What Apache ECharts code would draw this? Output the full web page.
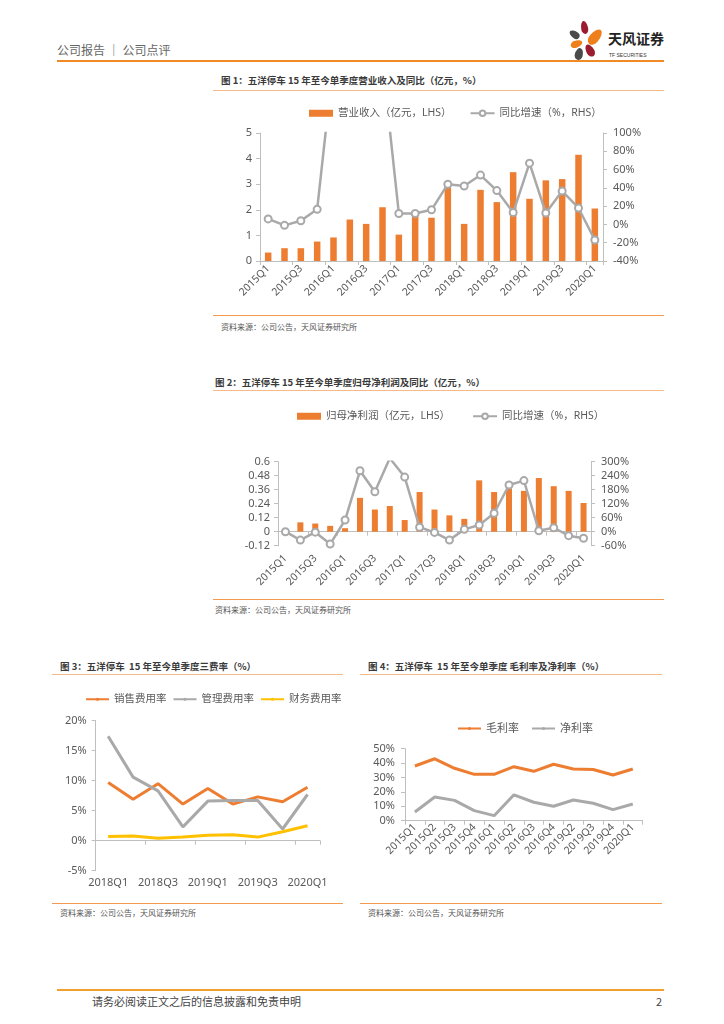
<!DOCTYPE html>
<html><head><meta charset="utf-8">
<script src="https://cdn.jsdelivr.net/npm/echarts@6/dist/echarts.min.js"></script>
<style>
html,body{margin:0;padding:0;background:#fff;}
body{width:724px;height:1024px;position:relative;overflow:hidden;font-family:'Noto Sans CJK SC','Noto Sans',sans-serif;}
.abs{position:absolute;}
.t{position:absolute;white-space:nowrap;color:#333;}
.ttl{font-size:9.5px;font-weight:bold;color:#3a3a3a;}
.src{font-size:8px;color:#555;}
.ln{position:absolute;height:0;}
.petal{position:absolute;border-radius:50% 50% 50% 50% / 60% 60% 40% 40%;}
</style></head><body>
<!-- header -->
<div class="t" style="left:57px;top:41px;font-size:12px;color:#666;">公司报告 ｜ 公司点评</div>
<div class="ln" style="left:57px;top:60px;width:607px;border-top:2px solid #F08A24;"></div>
<div class="petal" style="left:581px;top:21px;width:7px;height:13px;background:#9B1B30;transform:rotate(-10deg);"></div>
<div class="petal" style="left:590px;top:28px;width:10px;height:18px;background:#EE7F1A;transform:rotate(40deg);"></div>
<div class="petal" style="left:571px;top:29px;width:7px;height:11px;background:#4A4A4A;transform:rotate(-55deg);"></div>
<div class="petal" style="left:573px;top:38px;width:7px;height:12px;background:#EE7F1A;transform:rotate(70deg);"></div>
<div class="petal" style="left:586px;top:44px;width:8px;height:13px;background:#9B1B30;transform:rotate(-30deg);"></div>
<div class="petal" style="left:575px;top:48px;width:8px;height:12px;background:#4A4A4A;transform:rotate(15deg);"></div>
<div class="t" style="left:608px;top:28px;font-size:14px;font-weight:bold;color:#222;">天风证券</div>
<div class="t" style="left:609px;top:52px;font-size:5px;color:#333;font-family:'Liberation Sans',sans-serif;">TF SECURITIES</div>

<!-- chart 1 frame -->
<div class="t ttl" style="left:221px;top:73px;">图 1：五洋停车 15 年至今单季度营业收入及同比（亿元，%）</div>
<div class="ln" style="left:213px;top:90px;width:451px;border-top:1.5px solid #F6B98A;"></div>
<div id="c1" class="abs" style="left:210px;top:95px;width:460px;height:220px;"></div>
<div class="ln" style="left:213px;top:315px;width:451px;border-top:1.5px solid #F39A4F;"></div>
<div class="t src" style="left:221px;top:321px;">资料来源：公司公告，天风证券研究所</div>

<!-- chart 2 frame -->
<div class="t ttl" style="left:215px;top:375px;">图 2：五洋停车 15 年至今单季度归母净利润及同比（亿元，%）</div>
<div class="ln" style="left:213px;top:390px;width:451px;border-top:1.5px solid #F6B98A;"></div>
<div id="c2" class="abs" style="left:210px;top:395px;width:460px;height:200px;"></div>
<div class="ln" style="left:213px;top:599px;width:451px;border-top:1.5px solid #F39A4F;"></div>
<div class="t src" style="left:215px;top:604px;">资料来源：公司公告，天风证券研究所</div>

<!-- chart 3 frame -->
<div class="t ttl" style="left:60px;top:659px;">图 3：五洋停车 &nbsp;15 年至今单季度三费率（%）</div>
<div class="ln" style="left:52px;top:674px;width:291px;border-top:1.5px solid #F6B98A;"></div>
<div id="c3" class="abs" style="left:50px;top:680px;width:300px;height:220px;"></div>
<div class="ln" style="left:52px;top:903px;width:291px;border-top:1.5px solid #F39A4F;"></div>
<div class="t src" style="left:60px;top:907px;">资料来源：公司公告，天风证券研究所</div>

<!-- chart 4 frame -->
<div class="t ttl" style="left:368px;top:659px;">图 4：五洋停车 &nbsp;15 年至今单季度 毛利率及净利率（%）</div>
<div class="ln" style="left:360px;top:674px;width:302px;border-top:1.5px solid #F6B98A;"></div>
<div id="c4" class="abs" style="left:360px;top:690px;width:305px;height:210px;"></div>
<div class="ln" style="left:360px;top:903px;width:302px;border-top:1.5px solid #F39A4F;"></div>
<div class="t src" style="left:368px;top:907px;">资料来源：公司公告，天风证券研究所</div>

<!-- footer -->
<div class="ln" style="left:57px;top:989px;width:607px;border-top:2px solid #F0A030;"></div>
<div class="t" style="left:92px;top:993px;font-size:11px;color:#444;">请务必阅读正文之后的信息披露和免责申明</div>
<div class="t" style="left:656px;top:993px;font-size:11px;color:#444;">2</div>

<script>
// ---------- data ----------
const quarters21 = ['2015Q1','2015Q2','2015Q3','2015Q4','2016Q1','2016Q2','2016Q3','2016Q4','2017Q1','2017Q2','2017Q3','2017Q4','2018Q1','2018Q2','2018Q3','2018Q4','2019Q1','2019Q2','2019Q3','2019Q4','2020Q1'];
const revenue = [0.33,0.50,0.50,0.76,0.92,1.62,1.45,2.10,1.03,1.80,1.69,2.95,1.45,2.78,2.30,3.47,2.43,3.15,3.20,4.15,2.05];
const revenueYoY = [6,-1,4,16.5,179,224,190,178,12,12,16,44,42,54,37,13,67,12.5,36.5,18,-17];
const netProfit = [0.01,0.08,0.07,0.05,0.03,0.29,0.19,0.22,0.10,0.34,0.19,0.14,0.11,0.44,0.34,0.37,0.35,0.46,0.39,0.35,0.246];
const netProfitYoY = [0,-36,-2,-53,50,261,171,315,234,19,-3,-36,10,29,79,200,219,4,17,-17,-28];
const quarters9 = ['2018Q1','2018Q2','2018Q3','2018Q4','2019Q1','2019Q2','2019Q3','2019Q4','2020Q1'];
const salesRate = [9.7,6.9,9.5,6.1,8.7,6.1,7.3,6.5,8.9];
const mgmtRate = [17.4,10.6,8.3,2.3,6.6,6.7,6.7,1.95,7.7];
const finRate = [0.7,0.8,0.4,0.6,0.9,1.0,0.6,1.5,2.5];
const quarters12 = ['2015Q1','2015Q2','2015Q3','2015Q4','2016Q1','2016Q2','2016Q3','2016Q4','2019Q2','2019Q3','2019Q4','2020Q1'];
const grossMargin = [38,43,36.4,32.2,32.2,37.5,34.3,39.2,35.9,35.6,31.7,35.9];
const netMargin = [6,16.5,14.1,7,3.5,18,12.8,10,14.4,12.1,7.7,11.6];

// ---------- styles ----------
const FF = "'Noto Sans','Noto Sans CJK SC',sans-serif";
const ORANGE = '#ED7D31', GRAY = '#A9A9A9', YELLOW = '#FFC000';
const AX = '#BFBFBF', LBL = '#595959';
const axisLine = {show:true, lineStyle:{color:AX, width:1}};
const tick = {show:true, inside:false, length:4, lineStyle:{color:AX}};

function yAxis(o){
  return Object.assign({type:'value', splitLine:{show:false}, axisLine:axisLine, axisTick:tick,
    axisLabel:{color:LBL, fontSize:11, fontFamily:FF}}, o);
}
function grid(g){ return Object.assign({containLabel:false, outerBoundsMode:'none'}, g); }

// ---------- chart 1 ----------
echarts.init(document.getElementById('c1')).setOption({
  animation:false,
  textStyle:{fontFamily:FF},
  legend:{left:94, top:8, itemWidth:24, itemHeight:7, itemGap:18,
    textStyle:{color:LBL, fontSize:10.5, fontFamily:FF},
    data:[{name:'营业收入（亿元，LHS）', icon:'rect'}, {name:'同比增速（%，RHS）'}]},
  grid:grid({left:50, top:38, width:343, height:128}),
  xAxis:{type:'category', data:quarters21, axisLine:axisLine, axisTick:{show:true, length:4, lineStyle:{color:AX}},
    axisLabel:{interval:1, rotate:45, color:LBL, fontSize:10.5, fontFamily:FF, margin:6}},
  yAxis:[
    yAxis({min:0, max:5, interval:1, axisLabel:{color:LBL, fontSize:11, fontFamily:FF, margin:8}}),
    yAxis({min:-40, max:100, interval:20, position:'right', axisLabel:{color:LBL, fontSize:11, fontFamily:FF, margin:10, formatter:'{value}%'}})
  ],
  series:[
    {name:'营业收入（亿元，LHS）', type:'bar', data:revenue, barWidth:6.5, itemStyle:{color:ORANGE}},
    {name:'同比增速（%，RHS）', type:'line', yAxisIndex:1, data:revenueYoY, clip:true,
      symbol:'circle', symbolSize:7, showAllSymbol:true,
      lineStyle:{color:GRAY, width:2.5}, itemStyle:{color:'#fff', borderColor:GRAY, borderWidth:2}}
  ]
});

// ---------- chart 2 ----------
echarts.init(document.getElementById('c2')).setOption({
  animation:false,
  textStyle:{fontFamily:FF},
  legend:{left:82, top:11, itemWidth:24, itemHeight:7, itemGap:22,
    textStyle:{color:LBL, fontSize:10.5, fontFamily:FF},
    data:[{name:'归母净利润（亿元，LHS）', icon:'rect'}, {name:'同比增速（%，RHS）'}]},
  grid:grid({left:68, top:66.7, width:313, height:84}),
  xAxis:{type:'category', data:quarters21, axisLine:Object.assign({onZero:true}, axisLine), axisTick:{show:true, length:4, lineStyle:{color:AX}},
    axisLabel:{interval:1, rotate:45, color:LBL, fontSize:10.5, fontFamily:FF, margin:11}},
  yAxis:[
    yAxis({min:-0.12, max:0.6, interval:0.12, axisLabel:{color:LBL, fontSize:11, fontFamily:FF, margin:8, formatter:v=>String(+v.toFixed(2))}}),
    yAxis({min:-60, max:300, interval:60, position:'right', axisLabel:{color:LBL, fontSize:11, fontFamily:FF, margin:10, formatter:'{value}%'}})
  ],
  series:[
    {name:'归母净利润（亿元，LHS）', type:'bar', data:netProfit, barWidth:6, itemStyle:{color:ORANGE}},
    {name:'同比增速（%，RHS）', type:'line', yAxisIndex:1, data:netProfitYoY, clip:true,
      symbol:'circle', symbolSize:7, showAllSymbol:true,
      lineStyle:{color:GRAY, width:2.5}, itemStyle:{color:'#fff', borderColor:GRAY, borderWidth:2}}
  ]
});

// ---------- chart 3 ----------
function lineSeries(name, data, color){
  return {name:name, type:'line', data:data, symbol:'none', lineStyle:{color:color, width:3}, itemStyle:{color:color}};
}
echarts.init(document.getElementById('c3')).setOption({
  animation:false,
  textStyle:{fontFamily:FF},
  legend:{left:30, top:9, itemWidth:23, itemHeight:4, itemGap:6,
    textStyle:{color:LBL, fontSize:10.5, fontFamily:FF}},
  grid:grid({left:45.7, top:40.7, width:224.3, height:150}),
  xAxis:{type:'category', data:quarters9, axisLine:Object.assign({onZero:true}, axisLine), axisTick:{show:true, length:4, lineStyle:{color:AX}},
    axisLabel:{interval:1, color:LBL, fontSize:11, fontFamily:FF, margin:7}},
  yAxis:yAxis({min:-5, max:20, interval:5, axisLabel:{color:LBL, fontSize:11, fontFamily:FF, margin:9, formatter:'{value}%'}}),
  series:[lineSeries('销售费用率', salesRate, ORANGE), lineSeries('管理费用率', mgmtRate, GRAY), lineSeries('财务费用率', finRate, YELLOW)]
});

// ---------- chart 4 ----------
echarts.init(document.getElementById('c4')).setOption({
  animation:false,
  textStyle:{fontFamily:FF},
  legend:{left:92, top:28, itemWidth:23, itemHeight:4, itemGap:12,
    textStyle:{color:LBL, fontSize:11, fontFamily:FF}},
  grid:grid({left:45, top:58.7, width:237.7, height:72}),
  xAxis:{type:'category', data:quarters12, axisLine:axisLine, axisTick:{show:true, length:4, lineStyle:{color:AX}},
    axisLabel:{interval:0, rotate:45, color:LBL, fontSize:10.5, fontFamily:FF, margin:5}},
  yAxis:yAxis({min:0, max:50, interval:10, axisLabel:{color:LBL, fontSize:11, fontFamily:FF, margin:10, formatter:'{value}%'}}),
  series:[lineSeries('毛利率', grossMargin, ORANGE), lineSeries('净利率', netMargin, GRAY)]
});
</script>
</body></html>
